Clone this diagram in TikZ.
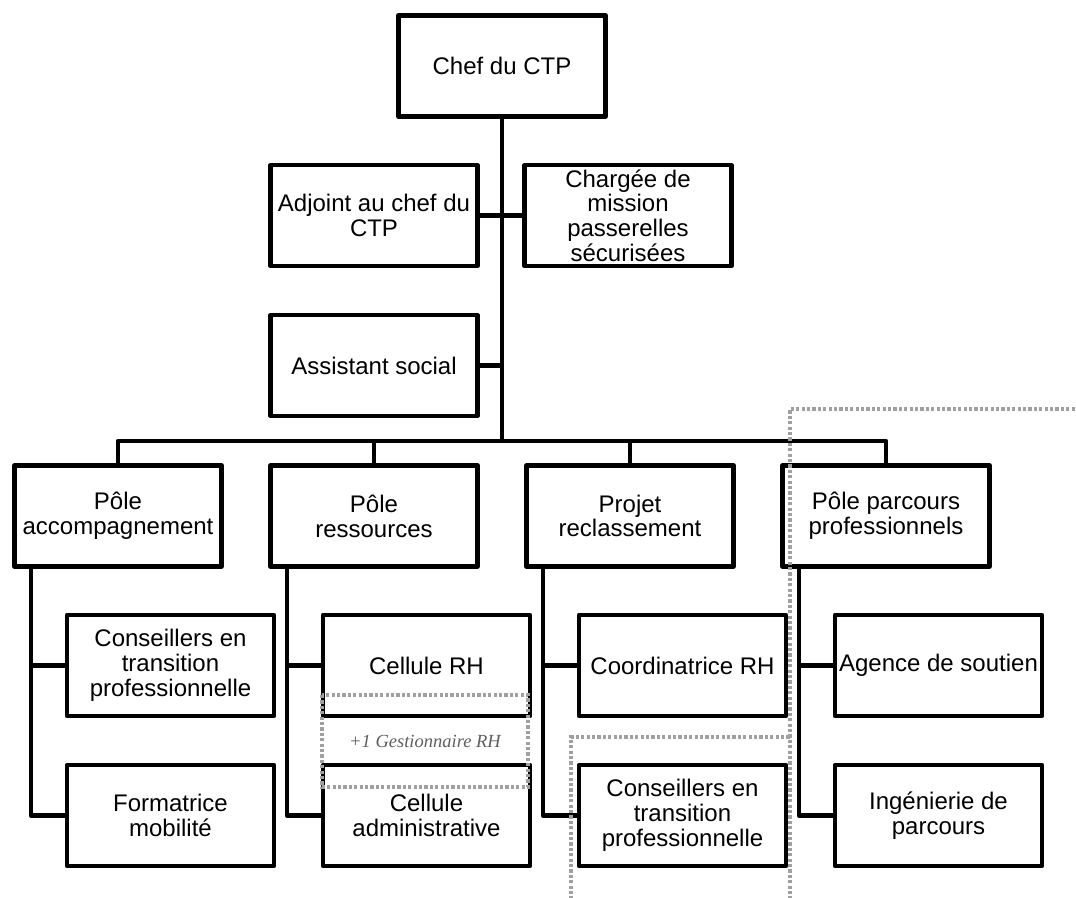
\documentclass[tikz,border=0pt]{standalone}
\usepackage{fontspec}
\setmainfont{Liberation Sans}
\newfontfamily\noteserif{Liberation Serif}
\usetikzlibrary{calc}
\definecolor{dotgray}{RGB}{160,160,160}
\definecolor{notegray}{RGB}{95,95,95}
\begin{document}
\begin{tikzpicture}[x=1pt,y=-1pt,
  box/.style={draw=black, line width=4.2pt, line join=round, fill=white,
    minimum width=207pt, minimum height=101pt, inner sep=0pt,
    align=center, font=\fontsize{24}{24.8}\selectfont},
  conn/.style={draw=black, line width=4.2pt, line join=round},
  dotbox/.style={draw=dotgray, line width=3.4pt, dash pattern=on 3.2pt off 2.2pt},
  note/.style={font=\noteserif\itshape\fontsize{18.5}{20}\selectfont, text=notegray}]
\useasboundingbox (0,0) rectangle (1076,897);
\fill[white] (0,0) rectangle (1076,897);

% top level
\node[box] (chef) at (502,66) {Chef du CTP};
\node[box] (adj) at (374,215.5) {Adjoint au chef du\\CTP};
\node[box] (charg) at (628,215.5) {Chargée de\\mission\\passerelles\\sécurisées};
\node[box] (assist) at (374,365.5) {Assistant social};

% poles
\node[box] (p1) at (118,516) {Pôle\\accompagnement};
\node[box] (p2) at (374,516) {Pôle\\ressources};
\node[box] (p3) at (630,516) {Projet\\reclassement};
\node[box] (p4) at (886,516) {Pôle parcours\\professionnels};

% children
\node[box] (c11) at (170.5,665.5) {Conseillers en\\transition\\professionnelle};
\node[box] (c12) at (170.5,815.5) {Formatrice\\mobilité};
\node[box] (c21) at (426.5,665.5) {Cellule RH};
\node[box] (c22) at (426.5,815.5) {Cellule\\administrative};
\node[box] (c31) at (682.5,665.5) {Coordinatrice RH};
\node[box] (c32) at (682.5,815.5) {Conseillers en\\transition\\professionnelle};
\node[box] (c41) at (938.5,665.5) {Agence de soutien};
\node[box] (c42) at (938.5,815.5) {Ingénierie de\\parcours};

% connectors top
\coordinate (bus) at (502,441);
\draw[conn] (chef.south) -- (bus);
\draw[conn] (adj.east) -- (charg.west);
\draw[conn] (assist.east) -- (assist.east -| bus);
\draw[conn] (p1.north) |- (p4.north |- bus) -- (p4.north);
\draw[conn] (p2.north) -- (p2.north |- bus);
\draw[conn] (p3.north) -- (p3.north |- bus);

% branches
\foreach \p/\a/\b in {p1/c11/c12, p2/c21/c22, p3/c31/c32, p4/c41/c42}{
  \coordinate (br\p) at ($(\p.south west)+(18.5,0)$);
  \draw[conn] (br\p) |- (\b.west);
  \draw[conn] (br\p |- \a.west) -- (\a.west);
}

% dotted overlays
\draw[dotbox] (322,695) rectangle (528,787);
\node[note] (gest) at (425,741) {+1 Gestionnaire RH};
\draw[dotbox] (571,905) -- (571,737) -- (790,737);
\draw[dotbox] (790,905) -- (790,409) -- (1085,409);
\end{tikzpicture}
\end{document}
